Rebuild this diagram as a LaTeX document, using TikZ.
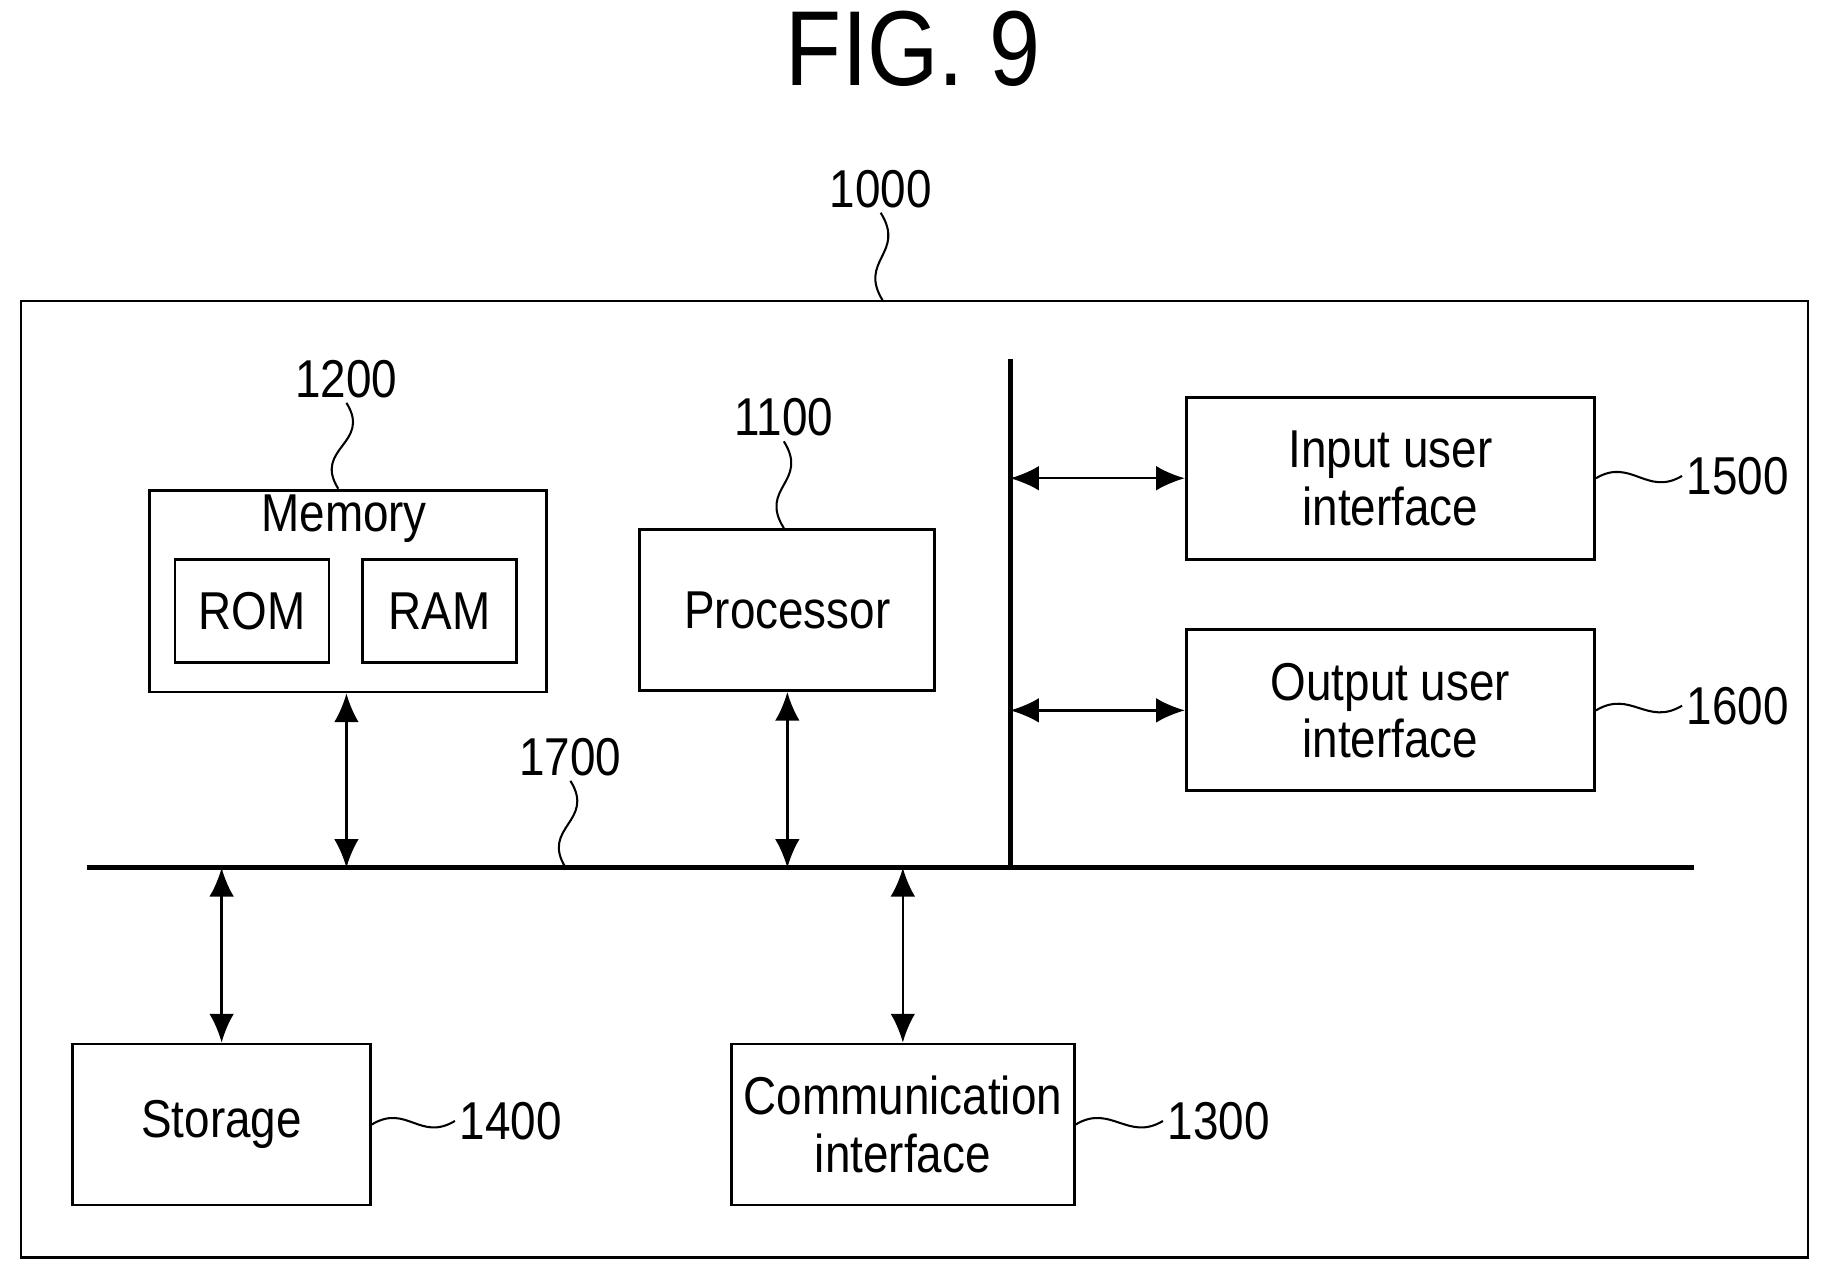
\documentclass[tikz,border=0pt]{standalone}
\usepackage{fontspec}
\setmainfont[FakeStretch=0.86]{Liberation Sans}
\usetikzlibrary{arrows.meta,calc}

\tikzset{
  box/.style={draw,line width=0.7pt,align=center,inner sep=0pt,font=\fontsize{13}{14}\selectfont},
  num/.style={font=\fontsize{13}{14}\selectfont,inner sep=1pt},
  link/.style={line width=0.6pt,{Latex[length=7pt,width=6pt]}-{Latex[length=7pt,width=6pt]}},
  bus/.style={line width=1.2pt},
  lead/.style={line width=0.5pt}
}
\newcommand{\vlead}[2]{\draw[lead] (#1) .. controls ($(#1)+(22,35)$) and ($(#2)+(-22,-35)$) .. (#2);}
\newcommand{\hlead}[2]{\draw[lead] (#1) .. controls ($(#1)+(30,-18)$) and ($(#2)+(-30,18)$) .. (#2);}

\begin{document}
\begin{tikzpicture}[x=0.1mm,y=-0.1mm]
  \useasboundingbox (0,0) rectangle (1568,1096);

  % title and outer frame
  \node[font=\fontsize{26}{28}\selectfont] (title) at (783,42) {FIG. 9};
  \draw[line width=0.7pt] (18,258) rectangle (1550,1078);
  \node[num] (n1000) at (755,162) {1000};
  \coordinate (top) at (757,258);
  \vlead{n1000.south}{top}

  % memory
  \node[box,minimum width=3.40cm,minimum height=1.73cm,anchor=north west] (mem) at (127,419) {};
  \node[num] at (295,445) {Memory};
  \node[box,minimum width=1.32cm,minimum height=0.88cm] (rom) at (216,524) {ROM};
  \node[box,minimum width=1.32cm,minimum height=0.88cm] (ram) at (377,524) {RAM};
  \node[num] (n1200) at (297,325) {1200};
  \vlead{n1200.south}{mem.north -| 290,0}

  % processor
  \node[box,minimum width=2.53cm,minimum height=1.38cm] (proc) at (675,523) {Processor};
  \node[num] (n1100) at (672,358) {1100};
  \vlead{n1100.south}{proc.north -| 672,0}

  % user interfaces
  \node[box,minimum width=3.50cm,minimum height=1.39cm] (inp) at (1192,410) {Input user\\interface};
  \node[box,minimum width=3.50cm,minimum height=1.38cm] (outp) at (1192,609) {Output user\\interface};
  \node[num,anchor=west] (n1500) at (1442,408) {1500};
  \node[num,anchor=west] (n1600) at (1442,605) {1600};
  \hlead{inp.east}{n1500.west}
  \hlead{outp.east}{n1600.west}

  % buses
  \coordinate (busL) at (75,744);
  \coordinate (busR) at (1452,744);
  \coordinate (vtop) at (866,308);
  \coordinate (vbot) at (866,744);
  \draw[bus] (busL) -- (busR);
  \draw[bus] (vtop) -- (vbot);
  \node[num] (n1700) at (489,649) {1700};
  \vlead{n1700.south}{485,744}

  % storage and communication
  \node[box,minimum width=2.55cm,minimum height=1.38cm] (stor) at (190,964) {Storage};
  \node[box,minimum width=2.94cm,minimum height=1.38cm] (comm) at (774,964) {Communication\\interface};
  \node[num,anchor=west] (n1400) at (390,961) {1400};
  \node[num,anchor=west] (n1300) at (997,961) {1300};
  \hlead{stor.east}{n1400.west}
  \hlead{comm.east}{n1300.west}

  % connections
  \draw[link] (mem.south -| 297,0) -- (297,744);
  \draw[link] (proc.south) -- (proc.south |- busL);
  \draw[link] (stor.north) -- (stor.north |- busL);
  \draw[link] (comm.north) -- (comm.north |- busL);
  \draw[link] (inp.west -| vtop) -- (inp.west);
  \draw[link] (outp.west -| vtop) -- (outp.west);
\end{tikzpicture}
\end{document}
